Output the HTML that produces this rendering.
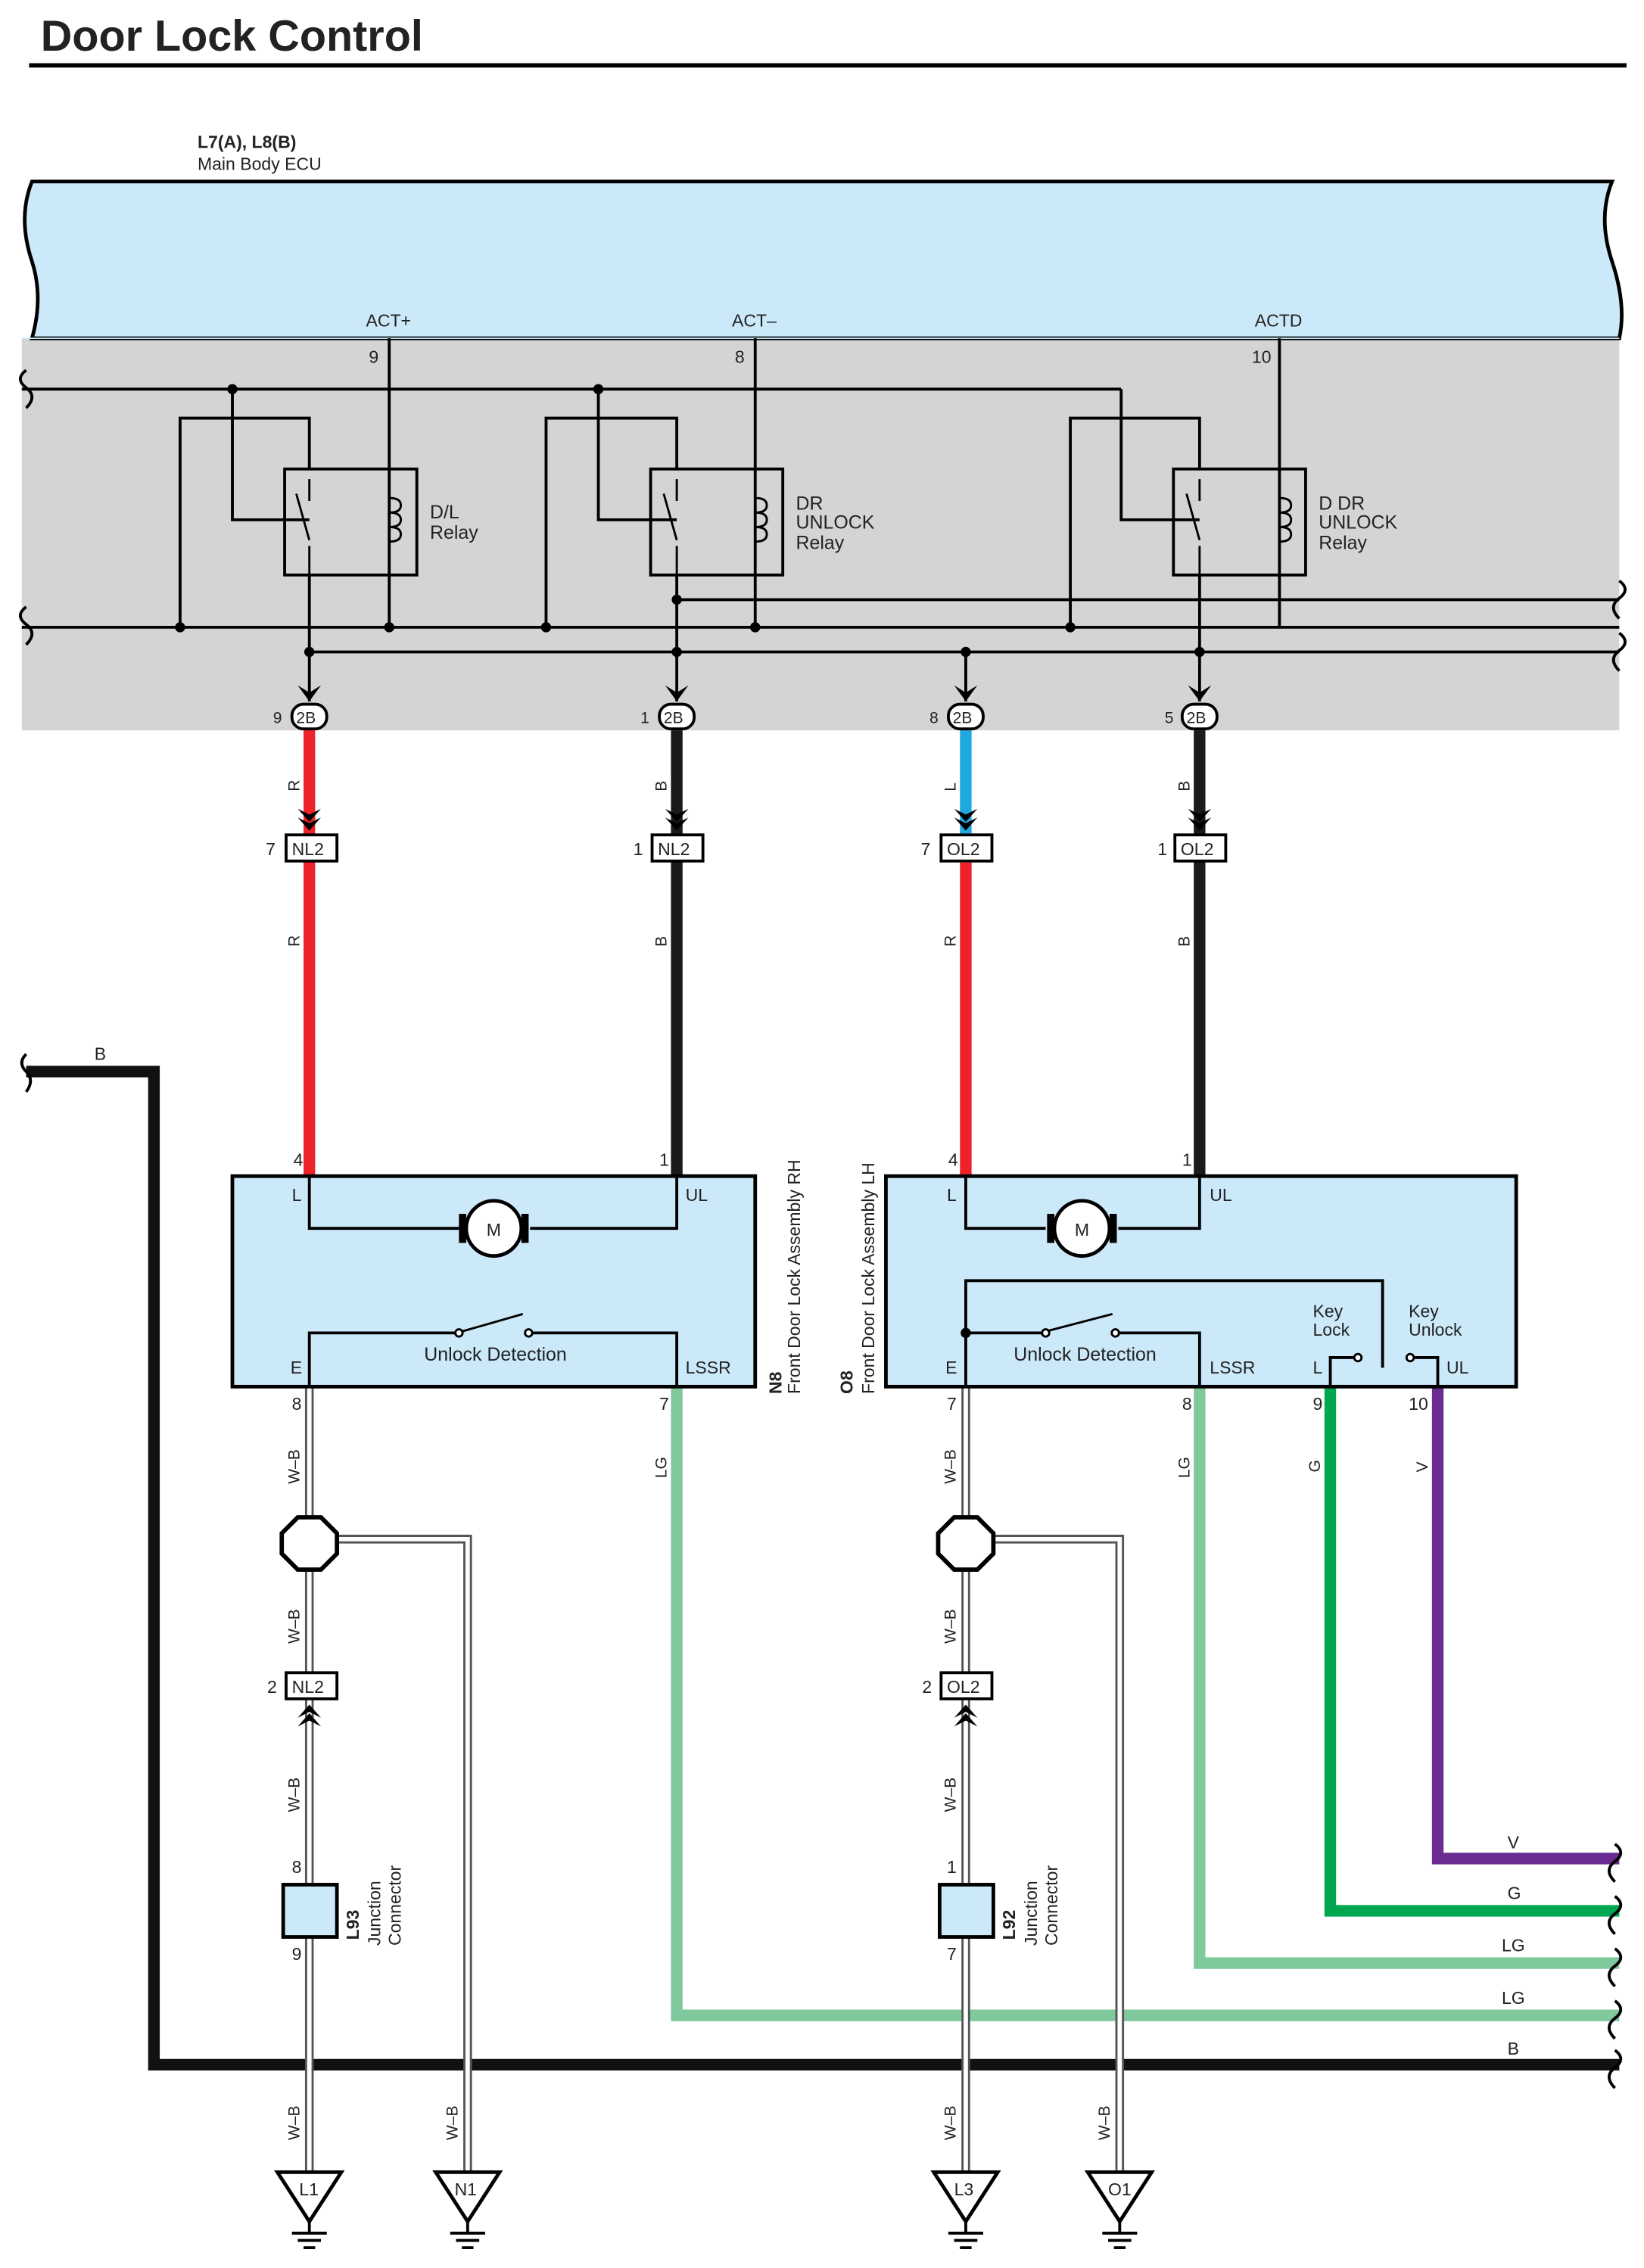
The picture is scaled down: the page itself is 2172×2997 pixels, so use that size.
<!DOCTYPE html>
<html><head><meta charset="utf-8"><style>
html,body{margin:0;padding:0;background:#fff}
svg{display:block}
text{font-family:"Liberation Sans",sans-serif;fill:#222}
</style></head><body>
<svg width="2172" height="2997" viewBox="0 0 1132 1562" xmlns="http://www.w3.org/2000/svg">
<text x="28" y="35" font-size="30" font-weight="bold" fill="#000">Door Lock Control</text>
<line x1="20" y1="45" x2="1120" y2="45" stroke="#000" stroke-width="3"/>
<text x="136" y="102" font-size="12" font-weight="bold">L7(A), L8(B)</text>
<text x="136" y="117" font-size="12">Main Body ECU</text>
<!-- gray area -->
<rect x="15" y="233" width="1100" height="270" fill="#d4d4d4"/>
<!-- ECU -->
<path d="M22 125 L1110 125 Q1100 150 1110 180 Q1120 210 1115 233 L22 233 Q30 205 22 180 Q12 150 22 125Z" fill="#cce9f9" stroke="#000" stroke-width="2.5"/>
<line x1="15" y1="233" x2="1115" y2="233" stroke="#cce9f9" stroke-width="1"/>
<g font-size="12">
<text x="252" y="225">ACT+</text><text x="504" y="225">ACT–</text><text x="864" y="225">ACTD</text>
<text x="254" y="250">9</text><text x="506" y="250">8</text><text x="862" y="250">10</text>
</g>
<g stroke="#000" stroke-width="2" fill="none">
<line x1="268" y1="233" x2="268" y2="432"/>
<line x1="520" y1="233" x2="520" y2="432"/>
<line x1="881" y1="233" x2="881" y2="432"/>
<line x1="15" y1="268" x2="772" y2="268"/>
<line x1="15" y1="432" x2="1115" y2="432"/>
<line x1="213" y1="449" x2="1115" y2="449"/>
<line x1="466" y1="413" x2="1115" y2="413"/>
<!-- relay 1 -->
<rect x="196" y="323" width="91" height="73"/>
<polyline points="160,268 160,358 213,358"/>
<polyline points="124,432 124,288 213,288 213,323"/>
<line x1="213" y1="396" x2="213" y2="483"/>
<!-- relay 2 -->
<rect x="448" y="323" width="91" height="73"/>
<polyline points="412,268 412,358 466,358"/>
<polyline points="376,432 376,288 466,288 466,323"/>
<line x1="466" y1="396" x2="466" y2="483"/>
<!-- relay 3 -->
<rect x="808" y="323" width="91" height="73"/>
<polyline points="772,268 772,358 826,358"/>
<polyline points="737,432 737,288 826,288 826,323"/>
<line x1="826" y1="396" x2="826" y2="483"/>
<line x1="665" y1="449" x2="665" y2="483"/>
<!-- switches and coils -->
<g stroke-width="1.5">
<path d="M213 330 V345 M204 340 L213 372 M213 376 V396"/>
<path d="M466 330 V345 M457 340 L466 372 M466 376 V396"/>
<path d="M826 330 V345 M817 340 L826 372 M826 376 V396"/>
<path d="M268 323 V343 q8 0 8 5 q0 5-8 5 q8 0 8 5 q0 5-8 5 q8 0 8 5 q0 5-8 5 V396"/>
<path d="M520 323 V343 q8 0 8 5 q0 5-8 5 q8 0 8 5 q0 5-8 5 q8 0 8 5 q0 5-8 5 V396"/>
<path d="M881 323 V343 q8 0 8 5 q0 5-8 5 q8 0 8 5 q0 5-8 5 q8 0 8 5 q0 5-8 5 V396"/>
</g>
<!-- wavy ends -->
<path d="M18 255 q-8 6 0 12 q8 6 0 14" /><path d="M18 418 q-8 6 0 12 q8 6 0 14"/>
<path d="M1115 400 q8 6 0 12 q-8 6 0 14"/><path d="M1115 436 q8 6 0 12 q-8 6 0 14"/>
</g>
<g fill="#000">
<circle cx="160" cy="268" r="3.5"/><circle cx="412" cy="268" r="3.5"/>
<circle cx="124" cy="432" r="3.5"/><circle cx="268" cy="432" r="3.5"/><circle cx="376" cy="432" r="3.5"/><circle cx="520" cy="432" r="3.5"/><circle cx="737" cy="432" r="3.5"/>
<circle cx="213" cy="449" r="3.5"/><circle cx="466" cy="449" r="3.5"/><circle cx="665" cy="449" r="3.5"/><circle cx="826" cy="449" r="3.5"/>
<circle cx="466" cy="413" r="3.5"/>
</g>
<g font-size="13">
<text x="296" y="357">D/L</text><text x="296" y="371">Relay</text>
<text x="548" y="351">DR</text><text x="548" y="364">UNLOCK</text><text x="548" y="378">Relay</text>
<text x="908" y="351">D DR</text><text x="908" y="364">UNLOCK</text><text x="908" y="378">Relay</text>
</g>
<!-- arrows into 2B -->
<g fill="#000">
<path d="M205 472 L213 483 L221 472 L213 477Z"/><path d="M458 472 L466 483 L474 472 L466 477Z"/>
<path d="M657 472 L665 483 L673 472 L665 477Z"/><path d="M818 472 L826 483 L834 472 L826 477Z"/>
</g>
<!-- wires -->
<g fill="none" stroke-width="8">
<line x1="213" y1="503" x2="213" y2="810" stroke="#ee2229"/>
<line x1="466" y1="503" x2="466" y2="810" stroke="#1a1a1a"/>
<line x1="665" y1="503" x2="665" y2="574" stroke="#1fa7e0"/>
<line x1="665" y1="594" x2="665" y2="810" stroke="#ee2229"/>
<line x1="826" y1="503" x2="826" y2="810" stroke="#1a1a1a"/>
<polyline points="18,738 106,738 106,1422 1115,1422" stroke="#111"/>
<polyline points="466,955 466,1388 1115,1388" stroke="#80c99d"/>
<polyline points="826,955 826,1352 1115,1352" stroke="#80c99d"/>
<polyline points="916,955 916,1316 1115,1316" stroke="#00a650"/>
<polyline points="990,955 990,1280 1115,1280" stroke="#6b2c91"/>
</g>
<!-- W-B double lines -->
<g fill="none" stroke="#555" stroke-width="6">
<line x1="213" y1="955" x2="213" y2="1496"/><line x1="665" y1="955" x2="665" y2="1496"/>
<polyline points="230,1060 322,1060 322,1496"/><polyline points="682,1060 771,1060 771,1496"/>
</g>
<g fill="none" stroke="#fff" stroke-width="3">
<line x1="213" y1="955" x2="213" y2="1496"/><line x1="665" y1="955" x2="665" y2="1496"/>
<polyline points="230,1060 322,1060 322,1496"/><polyline points="682,1060 771,1060 771,1496"/>
</g>
<!-- splice octagons -->
<g fill="#fff" stroke="#000" stroke-width="3">
<polygon points="205,1045 221,1045 232,1056 232,1070 221,1081 205,1081 194,1070 194,1056"/>
<polygon points="657,1045 673,1045 684,1056 684,1070 673,1081 657,1081 646,1070 646,1056"/>
</g>
<!-- B wavy ends -->
<g fill="none" stroke="#000" stroke-width="2">
<path d="M18 726 q-6 6 0 12 q6 6 0 14"/>
<path d="M1112 1270 q8 6 0 12 q-8 6 0 14"/><path d="M1112 1306 q8 6 0 12 q-8 6 0 14"/>
<path d="M1112 1342 q8 6 0 12 q-8 6 0 14"/><path d="M1112 1378 q8 6 0 12 q-8 6 0 14"/>
<path d="M1112 1412 q8 6 0 12 q-8 6 0 14"/>
</g>
<g font-size="12">
<text x="65" y="730">B</text><text x="1038" y="1273">V</text><text x="1038" y="1308">G</text>
<text x="1034" y="1344">LG</text><text x="1034" y="1380">LG</text><text x="1038" y="1415">B</text>
</g>
<!-- 2B connectors -->
<g font-size="11">
<g stroke="#000" stroke-width="2" fill="#fff">
<rect x="201" y="485" width="24" height="17" rx="8"/><rect x="454" y="485" width="24" height="17" rx="8"/>
<rect x="653" y="485" width="24" height="17" rx="8"/><rect x="814" y="485" width="24" height="17" rx="8"/>
</g>
<text x="204" y="498">2B</text><text x="457" y="498">2B</text><text x="656" y="498">2B</text><text x="817" y="498">2B</text>
<text x="188" y="498">9</text><text x="441" y="498">1</text><text x="640" y="498">8</text><text x="802" y="498">5</text>
</g>
<!-- NL2/OL2 connectors -->
<g fill="#000">
<path d="M205 557 L213 566 L221 557 L213 561Z"/><path d="M205 563 L213 572 L221 563 L213 567Z"/>
<path d="M458 557 L466 566 L474 557 L466 561Z"/><path d="M458 563 L466 572 L474 563 L466 567Z"/>
<path d="M657 557 L665 566 L673 557 L665 561Z"/><path d="M657 563 L665 572 L673 563 L665 567Z"/>
<path d="M818 557 L826 566 L834 557 L826 561Z"/><path d="M818 563 L826 572 L834 563 L826 567Z"/>
<path d="M205 1183 L213 1174 L221 1183 L213 1179Z"/><path d="M205 1189 L213 1180 L221 1189 L213 1185Z"/>
<path d="M657 1183 L665 1174 L673 1183 L665 1179Z"/><path d="M657 1189 L665 1180 L673 1189 L665 1185Z"/>
</g>
<g stroke="#000" stroke-width="2" fill="#fff">
<rect x="197" y="575" width="35" height="18"/><rect x="449" y="575" width="35" height="18"/>
<rect x="648" y="575" width="35" height="18"/><rect x="809" y="575" width="35" height="18"/>
<rect x="197" y="1152" width="35" height="18"/><rect x="648" y="1152" width="35" height="18"/>
</g>
<g font-size="12">
<text x="201" y="589">NL2</text><text x="453" y="589">NL2</text><text x="652" y="589">OL2</text><text x="813" y="589">OL2</text>
<text x="201" y="1166">NL2</text><text x="652" y="1166">OL2</text>
<text x="183" y="589">7</text><text x="436" y="589">1</text><text x="634" y="589">7</text><text x="797" y="589">1</text>
<text x="184" y="1166">2</text><text x="635" y="1166">2</text>
</g>
<!-- vertical wire labels -->
<g font-size="11">
<text transform="translate(206,545) rotate(-90)">R</text><text transform="translate(459,545) rotate(-90)">B</text>
<text transform="translate(658,545) rotate(-90)">L</text><text transform="translate(819,545) rotate(-90)">B</text>
<text transform="translate(206,652) rotate(-90)">R</text><text transform="translate(459,652) rotate(-90)">B</text>
<text transform="translate(658,652) rotate(-90)">R</text><text transform="translate(819,652) rotate(-90)">B</text>
<text transform="translate(459,1018) rotate(-90)">LG</text><text transform="translate(819,1018) rotate(-90)">LG</text>
<text transform="translate(909,1014) rotate(-90)">G</text><text transform="translate(983,1014) rotate(-90)">V</text>
<text transform="translate(206,1022) rotate(-90)">W–B</text><text transform="translate(658,1022) rotate(-90)">W–B</text>
<text transform="translate(206,1132) rotate(-90)">W–B</text><text transform="translate(658,1132) rotate(-90)">W–B</text>
<text transform="translate(206,1248) rotate(-90)">W–B</text><text transform="translate(658,1248) rotate(-90)">W–B</text>
<text transform="translate(206,1474) rotate(-90)">W–B</text><text transform="translate(658,1474) rotate(-90)">W–B</text>
<text transform="translate(315,1474) rotate(-90)">W–B</text><text transform="translate(764,1474) rotate(-90)">W–B</text>
</g>
<!-- assemblies -->
<g stroke="#000" fill="#cce9f9" stroke-width="2.5">
<rect x="160" y="810" width="360" height="145"/><rect x="610" y="810" width="434" height="145"/>
</g>
<g stroke="#000" fill="none" stroke-width="2">
<polyline points="213,810 213,846 317,846"/><polyline points="466,810 466,846 365,846"/>
<polyline points="665,810 665,846 720,846"/><polyline points="826,810 826,846 770,846"/>
<polyline points="213,955 213,918 315,918"/><polyline points="466,955 466,918 365,918"/>
<line x1="318" y1="917" x2="360" y2="905" stroke-width="1.5"/>
<polyline points="665,955 665,918 720,918"/><polyline points="826,955 826,918 770,918"/>
<line x1="720" y1="917" x2="766" y2="905" stroke-width="1.5"/>
<polyline points="665,918 665,882 952,882 952,942" />
<polyline points="916,955 916,935 932,935"/><polyline points="990,955 990,935 974,935"/>
</g>
<g fill="#fff" stroke="#000" stroke-width="1.5">
<circle cx="316" cy="918" r="2.5"/><circle cx="364" cy="918" r="2.5"/>
<circle cx="720" cy="918" r="2.5"/><circle cx="768" cy="918" r="2.5"/>
<circle cx="935" cy="935" r="2.5"/><circle cx="971" cy="935" r="2.5"/>
</g>
<circle cx="665" cy="918" r="3.5" fill="#000"/>
<!-- motors -->
<g stroke="#000" stroke-width="2.5" fill="#fff">
<circle cx="340" cy="846" r="19"/><circle cx="745" cy="846" r="19"/>
</g>
<g fill="#000">
<rect x="316" y="836" width="5" height="20"/><rect x="359" y="836" width="5" height="20"/>
<rect x="721" y="836" width="5" height="20"/><rect x="764" y="836" width="5" height="20"/>
</g>
<g font-size="12">
<text x="335" y="851">M</text><text x="740" y="851">M</text>
<text x="201" y="827">L</text><text x="472" y="827">UL</text><text x="652" y="827">L</text><text x="833" y="827">UL</text>
<text x="200" y="946">E</text><text x="472" y="946">LSSR</text><text x="651" y="946">E</text><text x="833" y="946">LSSR</text>
<text x="292" y="937" font-size="13">Unlock Detection</text><text x="698" y="937" font-size="13">Unlock Detection</text>
<text x="904" y="907">Key</text><text x="904" y="920">Lock</text><text x="970" y="907">Key</text><text x="970" y="920">Unlock</text>
<text x="904" y="946">L</text><text x="996" y="946">UL</text>
<text x="202" y="803">4</text><text x="454" y="803">1</text><text x="653" y="803">4</text><text x="814" y="803">1</text>
<text x="201" y="971">8</text><text x="454" y="971">7</text><text x="652" y="971">7</text><text x="814" y="971">8</text>
<text x="904" y="971">9</text><text x="970" y="971">10</text>
</g>
<g font-size="12">
<text transform="translate(538,960) rotate(-90)"><tspan font-weight="bold">N8</tspan></text>
<text transform="translate(551,960) rotate(-90)">Front Door Lock Assembly RH</text>
<text transform="translate(587,960) rotate(-90)"><tspan font-weight="bold">O8</tspan></text>
<text transform="translate(602,960) rotate(-90)">Front Door Lock Assembly LH</text>
</g>
<!-- junction connectors -->
<g stroke="#000" stroke-width="2.5" fill="#cce9f9">
<rect x="195" y="1298" width="37" height="36"/><rect x="647" y="1298" width="37" height="36"/>
</g>
<g font-size="12">
<text x="201" y="1290">8</text><text x="201" y="1350">9</text><text x="652" y="1290">1</text><text x="652" y="1350">7</text>
<text transform="translate(247,1336) rotate(-90)" font-weight="bold">L93</text>
<text transform="translate(262,1340) rotate(-90)">Junction</text><text transform="translate(276,1340) rotate(-90)">Connector</text>
<text transform="translate(699,1336) rotate(-90)" font-weight="bold">L92</text>
<text transform="translate(714,1340) rotate(-90)">Junction</text><text transform="translate(728,1340) rotate(-90)">Connector</text>
</g>
<!-- grounds -->
<g stroke="#000" stroke-width="2.5" fill="#fff">
<polygon points="191,1496 235,1496 213,1530"/><polygon points="300,1496 344,1496 322,1530"/>
<polygon points="643,1496 687,1496 665,1530"/><polygon points="749,1496 793,1496 771,1530"/>
</g>
<g stroke="#000" stroke-width="2">
<path d="M213 1530 V1538 M201 1538 H225 M205 1543 H221 M209 1548 H217"/>
<path d="M322 1530 V1538 M310 1538 H334 M314 1543 H330 M318 1548 H326"/>
<path d="M665 1530 V1538 M653 1538 H677 M657 1543 H673 M661 1548 H669"/>
<path d="M771 1530 V1538 M759 1538 H783 M763 1543 H779 M767 1548 H775"/>
</g>
<g font-size="12">
<text x="206" y="1512">L1</text><text x="313" y="1512">N1</text><text x="657" y="1512">L3</text><text x="763" y="1512">O1</text>
</g>
</svg>
</body></html>
